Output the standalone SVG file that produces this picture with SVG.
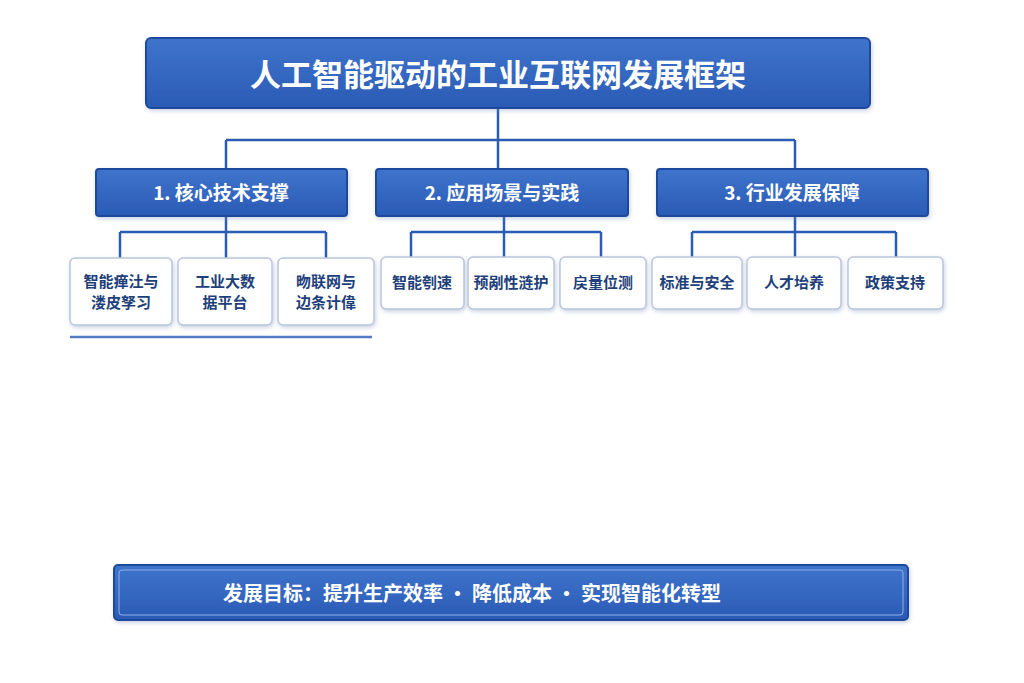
<svg xmlns="http://www.w3.org/2000/svg" width="1024" height="683" viewBox="0 0 1024 683">
<defs>
<linearGradient id="bg" x1="0" y1="0" x2="0" y2="1"><stop offset="0" stop-color="#3f74cc"/><stop offset="1" stop-color="#2a5bb5"/></linearGradient>
<filter id="sh" x="-10%" y="-10%" width="120%" height="140%"><feDropShadow dx="1" dy="2" stdDeviation="2" flood-color="#7a8fb5" flood-opacity="0.4"/></filter>
</defs>
<style>
.blue{fill:url(#bg);stroke:#1f4a9c;stroke-width:2;filter:url(#sh)}
.leaf{fill:#fff;stroke:#b9c6dc;stroke-width:1.5;filter:url(#sh)}
.wt{font-family:"Noto Sans CJK SC","Liberation Sans",sans-serif;fill:#fff;font-weight:bold;text-anchor:middle}
.lt{font-family:"Noto Sans CJK SC","Liberation Sans",sans-serif;fill:#1e3f7a;font-weight:bold;font-size:15px;text-anchor:middle}
.c{fill:none;stroke:#2a5bb5;stroke-width:2.5}
</style>
<rect width="1024" height="683" fill="#fff"/>
<g id="connectors">
<path class="c" d="M498 108V140M226 140H795M226 140V168M498 140V168M795 140V168"/>
<path class="c" d="M226 216V232M120 232H326M120 232V258M226 232V258M326 232V258"/>
<path class="c" d="M504 216V232M411 232H601M411 232V257M504 232V257M601 232V257"/>
<path class="c" d="M795 216V232M692 232H896M692 232V257M795 232V257M896 232V257"/>
<path d="M70 337H372" stroke="#2a5bb5" stroke-width="2.5" opacity="0.8"/>
</g>
<g id="title"><rect class="blue" x="146" y="38" width="724" height="70" rx="5"/><text class="wt" x="498" y="86" font-size="31">人工智能驱动的工业互联网发展框架</text></g>
<g id="cat1"><rect class="blue" x="96" y="169" width="251" height="47" rx="3"/><text class="wt" x="221" y="200" font-size="19">1. 核心技术支撑</text></g>
<g id="cat2"><rect class="blue" x="376" y="169" width="252" height="47" rx="3"/><text class="wt" x="502" y="200" font-size="19">2. 应用场景与实践</text></g>
<g id="cat3"><rect class="blue" x="657" y="169" width="271" height="47" rx="3"/><text class="wt" x="792" y="200" font-size="19">3. 行业发展保障</text></g>
<g id="leaf1"><rect class="leaf" x="70" y="258" width="102" height="67" rx="5"/><text class="lt" x="121" y="287">智能瘅汢与</text><text class="lt" x="121" y="308">溇皮孥习</text></g>
<g id="leaf2"><rect class="leaf" x="178" y="258" width="94" height="67" rx="5"/><text class="lt" x="225" y="287">工业大数</text><text class="lt" x="225" y="308">据平台</text></g>
<g id="leaf3"><rect class="leaf" x="278" y="258" width="96" height="67" rx="5"/><text class="lt" x="326" y="287">昒联网与</text><text class="lt" x="326" y="308">边条计偉</text></g>
<g id="leaf4"><rect class="leaf" x="381" y="257" width="83" height="52" rx="5"/><text class="lt" x="422" y="288">智能刳速</text></g>
<g id="leaf5"><rect class="leaf" x="468" y="257" width="86" height="52" rx="5"/><text class="lt" x="511" y="288">预剐性涟护</text></g>
<g id="leaf6"><rect class="leaf" x="560" y="257" width="86" height="52" rx="5"/><text class="lt" x="603" y="288">戻量位测</text></g>
<g id="leaf7"><rect class="leaf" x="652" y="257" width="90" height="52" rx="5"/><text class="lt" x="697" y="288">标准与安全</text></g>
<g id="leaf8"><rect class="leaf" x="747" y="257" width="94" height="52" rx="5"/><text class="lt" x="794" y="288">人才坮养</text></g>
<g id="leaf9"><rect class="leaf" x="848" y="257" width="95" height="52" rx="5"/><text class="lt" x="895" y="288">政策支持</text></g>
<g id="goal"><rect class="blue" x="114" y="565" width="794" height="55" rx="4"/><rect x="119" y="570" width="784" height="45" rx="3" fill="none" stroke="#8fb0e6" stroke-width="1"/><text class="wt" x="472" y="601" font-size="20">发展目标：提升生产效率 · 降低成本 · 实现智能化转型</text></g>
</svg>
